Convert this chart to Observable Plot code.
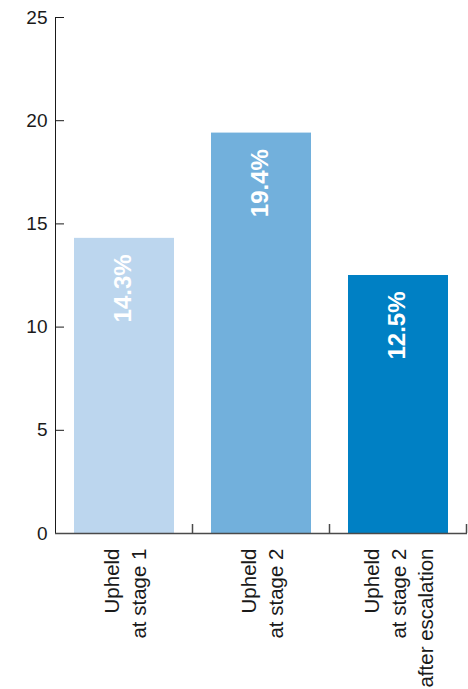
<!DOCTYPE html>
<html>
<head>
<meta charset="utf-8">
<script src="https://cdn.jsdelivr.net/npm/d3@7"></script>
<script src="https://cdn.jsdelivr.net/npm/@observablehq/plot@0.6"></script>
<style>
  html, body { margin: 0; padding: 0; background: #fff; }
</style>
</head>
<body>
<div id="chart"></div>
<script>
// Share of complaints upheld, by stage
const categories = ["Upheld\nat stage 1", "Upheld\nat stage 2", "Upheld\nat stage 2\nafter escalation"];
const values = [14.3, 19.4, 12.5];
const barColors = ["#bcd6ee", "#72b0dc", "#0080c4"];
const yTicks = [0, 5, 10, 15, 20, 25];

const rows = categories.map((category, i) => ({category, value: values[i], color: barColors[i]}));

const chart = Plot.plot({
  width: 468,
  height: 689,
  marginLeft: 55,
  marginRight: 1,
  marginTop: 17,
  marginBottom: 156,
  style: {fontFamily: "'Liberation Sans', Arial, sans-serif", fontSize: "19px", color: "#1a1a1a", background: "#fff"},
  x: {domain: categories, paddingInner: 0.27, paddingOuter: 0.135, axis: null},
  y: {domain: [0, 25], ticks: yTicks, tickSize: -9, tickPadding: 17, line: true, label: null},
  color: {type: "identity"},
  marks: [
    Plot.barY(rows, {x: "category", y: "value", fill: "color"}),
    Plot.ruleY([0], {stroke: "#4a4a4a", strokeWidth: 1.5}),
    Plot.text(rows, {
      x: "category", y: "value",
      text: d => d.value.toFixed(1) + "%",
      rotate: -90, textAnchor: "end", dy: 16, dx: -1,
      fill: "white", fontWeight: "bold", fontSize: 24
    }),
    Plot.text(categories, {
      x: d => d, frameAnchor: "bottom",
      text: d => d,
      rotate: -90, textAnchor: "end", lineAnchor: "middle",
      lineHeight: 1.31, dy: 15, dx: -1,
      fill: "#1a1a1a", fontSize: 20.5
    })
  ]
});

// Category boundary ticks on the x axis, pointing up from the baseline
const xs = chart.scale("x");
const y0 = chart.scale("y").apply(0);
const bounds = xs.domain.map(c => xs.apply(c) + xs.bandwidth + (xs.step - xs.bandwidth) / 2);
d3.select(chart).append("g")
  .attr("stroke", "#4a4a4a")
  .attr("stroke-width", 1.5)
  .selectAll("line")
  .data(bounds)
  .join("line")
  .attr("x1", d => d).attr("x2", d => d)
  .attr("y1", y0).attr("y2", y0 - 9);

document.getElementById("chart").append(chart);
</script>
</body>
</html>
